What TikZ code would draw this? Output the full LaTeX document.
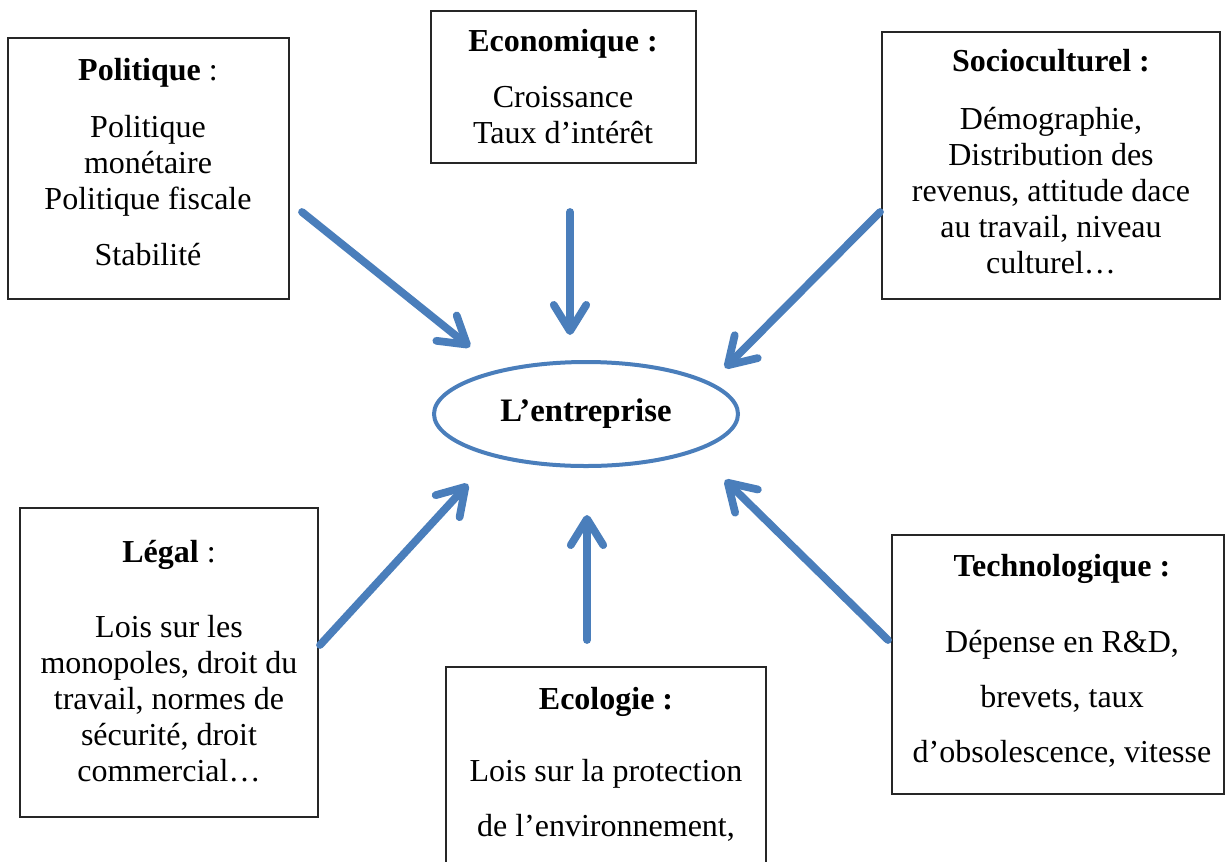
\documentclass[tikz,border=0pt]{standalone}
\usepackage{fontspec}
\setmainfont{Liberation Serif}
\usetikzlibrary{arrows.meta,shapes.geometric,fit}
\definecolor{pestblue}{HTML}{4A7EBB}
\definecolor{pestline}{HTML}{262626}
\tikzset{
  pestbox/.style  ={rectangle, draw=pestline, line width=0.6pt, inner sep=0pt},
  pesttxt/.style  ={anchor=north, align=center, inner sep=0pt,
                    font=\fontsize{12.8}{14.4}\selectfont},
  pestwide/.style ={pesttxt, font=\fontsize{12.8}{22}\selectfont},
  pestcore/.style ={ellipse, draw=pestblue, line width=1.6pt, inner sep=0pt,
                    minimum width=121.6pt, minimum height=41.6pt,
                    font=\fontsize{13.1}{15}\selectfont\bfseries},
  pestarrow/.style={-{Straight Barb[length=10.5pt,width=13pt,round]}, line width=3.1pt,
                    draw=pestblue, line cap=round},
}
\begin{document}
\begin{tikzpicture}[x=0.4pt, y=-0.4pt]
  \useasboundingbox (0,0) rectangle (1227,861);
  \clip (0,0) rectangle (1227,861);
  % centre
  \node[pestcore] (ent) at (586,414) {L’entreprise};
  % the six boxes
  \node[pestbox, fit={(8,38) (289,299)}]      (pol) {};
  \node[pestbox, fit={(431,11) (696,163)}]    (eco) {};
  \node[pestbox, fit={(882,32) (1220,299)}]   (soc) {};
  \node[pestbox, fit={(20,508) (318,817)}]    (leg) {};
  \node[pestbox, fit={(446,667) (766,920)}]   (ecl) {};
  \node[pestbox, fit={(892,535) (1224,794)}]  (tec) {};
  \node[pesttxt] (poltxt) at (148,58) {\textbf{Politique} :\\[8.4pt]
    Politique\\ monétaire\\ Politique fiscale\\[8pt] Stabilité};
  \node[pesttxt] (ecotxt) at (563,29) {\textbf{Economique :}\\[8pt]
    Croissance\\ Taux d’intérêt};
  \node[pesttxt] (soctxt) at (1051,49) {\textbf{Socioculturel :}\\[8.6pt]
    Démographie,\\ Distribution des\\ revenus, attitude dace\\ au travail, niveau\\ culturel…};
  \node[pesttxt] (legtxt) at (169,540) {\textbf{Légal} :\\[15.6pt]
    Lois sur les\\ monopoles, droit du\\ travail, normes de\\ sécurité, droit\\ commercial…};
  \node[pestwide] (ecltxt) at (606,687) {\textbf{Ecologie :}\\[6.8pt]
    Lois sur la protection\\ de l’environnement,};
  \node[pestwide] (tectxt) at (1062,554) {\textbf{Technologique :}\\[8.4pt]
    Dépense en R\&D,\\ brevets, taux\\ d’obsolescence, vitesse};
  % arrow ends
  \coordinate (polA) at (302,212);  \coordinate (polB) at (470,347);
  \coordinate (ecoA) at (570,212);  \coordinate (ecoB) at (570,335);
  \coordinate (socA) at (880,212);  \coordinate (socB) at (725,368);
  \coordinate (legA) at (320,645);  \coordinate (legB) at (468,484);
  \coordinate (eclA) at (587,640);  \coordinate (eclB) at (587,515);
  \coordinate (tecA) at (888,640);  \coordinate (tecB) at (725,480);
  \foreach \n in {pol,eco,soc,leg,ecl,tec}{\draw[pestarrow] (\n A) -- (\n B);}
\end{tikzpicture}
\end{document}
